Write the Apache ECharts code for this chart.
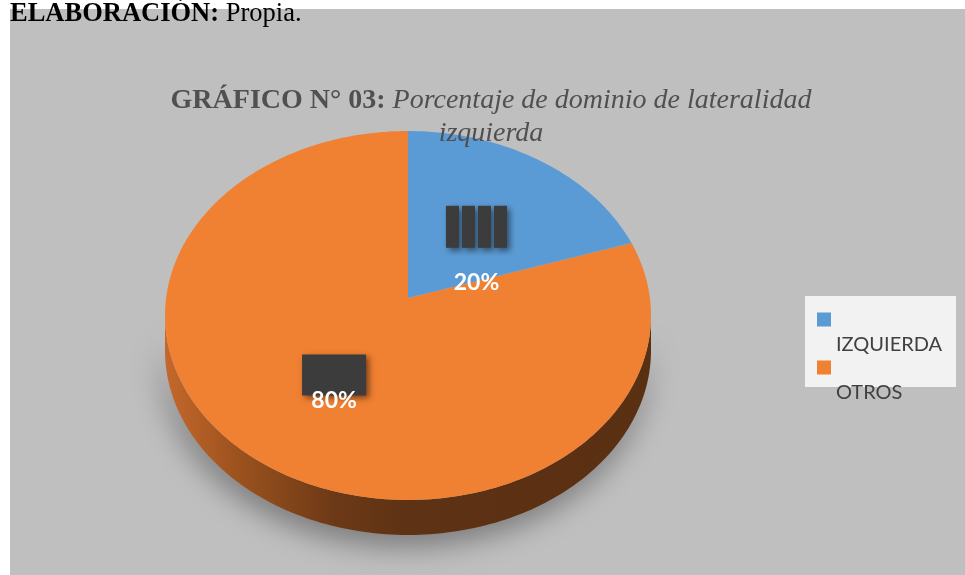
<!DOCTYPE html>
<html><head><meta charset="utf-8">
<script src="https://cdn.jsdelivr.net/npm/echarts@6/dist/echarts.min.js"></script>
<style>html,body{margin:0;padding:0;background:#fff}#c{width:965px;height:575px}</style>
</head><body><div id="c"></div>
<script>
// ---- data ----
const categories = ['IZQUIERDA', 'OTROS'];
const values = [20, 80];
const colors = ['#5b9bd5', '#f08032'];
const total = values.reduce((a, b) => a + b, 0);
const percentLabels = values.map(v => Math.round(v / total * 100) + '%');

// ---- styling (perspective ellipse, label decoration) ----
const geo = { rx: 241.9, ry: 182.8, k: 0.095, depth: 35 };
const labelBoxCounts = [4, 1];
const labelBoxWidths = [13, 64];
const labelBoxHeights = [42, 41];
const labelTextDy = [56, 26];

const sideGradient = new echarts.graphic.LinearGradient(0, 0, 1, 0, [
  { offset: 0, color: '#c4682c' },
  { offset: 0.15, color: '#9c521e' },
  { offset: 0.35, color: '#6c3916' },
  { offset: 0.5, color: '#5e3214' },
  { offset: 1, color: '#5a3012' }
]);

function makeRender(i) {
  return function (params, api) {
    let start = 0;
    for (let j = 0; j < i; j++) start += values[j];
    const end = start + api.value(0);
    const c = api.coord([0, start]);
    const e = api.coord([1, start]);
    const R = Math.hypot(e[0] - c[0], e[1] - c[1]);
    function pt(a, f) {
      const p = api.coord([1, a]);
      const u = (p[0] - c[0]) / R * f, v = (p[1] - c[1]) / R * f;
      const d = 1 - geo.k * v;
      return [c[0] + geo.rx * u / d, c[1] + geo.ry * v / d];
    }
    const steps = Math.max(8, Math.ceil((end - start) * 3));
    const top = [[c[0], c[1]]];
    const sideTop = [];
    for (let s = 0; s <= steps; s++) {
      const a = start + (end - start) * s / steps;
      const p = api.coord([1, a]);
      const v = (p[1] - c[1]) / R;
      const q = pt(a, 1);
      top.push(q);
      if (v >= geo.k) sideTop.push(q);
    }
    const children = [];
    if (sideTop.length > 1) {
      const pts = sideTop.concat(sideTop.slice().reverse().map(p => [p[0], p[1] + geo.depth]));
      children.push({
        type: 'polygon', shape: { points: pts },
        style: { fill: sideGradient, shadowBlur: 30, shadowColor: 'rgba(0,0,0,0.4)', shadowOffsetY: 10, shadowOffsetX: -3 }
      });
    }
    children.push({ type: 'polygon', shape: { points: top }, style: { fill: api.visual('color') } });
    // label: placeholder glyph boxes + percentage
    const anc = pt((start + end) / 2, 0.5);
    const nb = labelBoxCounts[i], bw = labelBoxWidths[i], bh = labelBoxHeights[i], gap = 3;
    const tw = nb * bw + (nb - 1) * gap;
    for (let b = 0; b < nb; b++) {
      children.push({
        type: 'rect',
        shape: { x: anc[0] - tw / 2 + b * (bw + gap), y: anc[1] - bh / 2, width: bw, height: bh },
        style: { fill: '#3c3c3c', shadowBlur: 6, shadowColor: 'rgba(0,0,0,0.5)', shadowOffsetX: 3, shadowOffsetY: 3 }
      });
    }
    children.push({
      type: 'text', x: anc[0], y: anc[1] + labelTextDy[i],
      style: { text: percentLabels[i], fill: '#ffffff', font: 'bold 23px Lato', align: 'center', verticalAlign: 'middle' }
    });
    return { type: 'group', children };
  };
}

const chart = echarts.init(document.getElementById('c'), null, { renderer: 'canvas' });
chart.setOption({
  backgroundColor: '#ffffff',
  animation: false,
  title: [
    {
      text: '{b|ELABORACIÓN:} {r|Propia.}', left: 10, top: 0, padding: 0,
      textStyle: {
        fontFamily: 'Liberation Serif', fontWeight: 'normal', fontSize: 26.5, lineHeight: 28, color: '#000',
        rich: {
          b: { fontFamily: 'Liberation Serif', fontWeight: 'bold', fontSize: 26.5, lineHeight: 28, color: '#000' },
          r: { fontFamily: 'Liberation Serif', fontWeight: 'normal', fontSize: 26.5, lineHeight: 28, color: '#000' }
        }
      }
    },
    {
      text: '{b|GRÁFICO N° 03:} {i|Porcentaje de dominio de lateralidad}\n{i|izquierda}',
      left: 491, top: 84, padding: 0, textAlign: 'center',
      textStyle: {
        fontFamily: 'Liberation Serif', fontWeight: 'normal', fontSize: 28, lineHeight: 33, color: '#505050',
        rich: {
          b: { fontFamily: 'Liberation Serif', fontWeight: 'bold', fontSize: 28, lineHeight: 33, color: '#505050' },
          i: { fontFamily: 'Liberation Serif', fontWeight: 'normal', fontStyle: 'italic', fontSize: 28, lineHeight: 33, color: '#505050' }
        }
      }
    }
  ],
  graphic: [
    { type: 'rect', z: 0, silent: true, shape: { x: 10, y: 9, width: 955, height: 566 }, style: { fill: '#bfbfbf' } },
    { type: 'rect', z: 1, silent: true, shape: { x: 805, y: 296, width: 151, height: 91 }, style: { fill: '#f2f2f2' } }
  ],
  legend: {
    orient: 'vertical', left: 817, top: 284, padding: 0,
    itemWidth: 14, itemHeight: 14, itemGap: -23, icon: 'rect',
    data: categories,
    selectedMode: false,
    formatter: '{t|{name}}',
    textStyle: {
      fontFamily: 'Lato', fontSize: 20, color: '#404040',
      rich: { t: { fontFamily: 'Lato', fontSize: 20, color: '#404040', lineHeight: 24, padding: [51, 0, 0, 0] } }
    }
  },
  polar: { center: [408, 298], radius: 100 },
  angleAxis: { type: 'value', min: 0, max: total, startAngle: 90, clockwise: true, show: false },
  radiusAxis: { type: 'value', min: 0, max: 1, show: false },
  series: categories.map((name, i) => ({
    type: 'custom', name, coordinateSystem: 'polar', silent: true,
    data: [values[i]], itemStyle: { color: colors[i] },
    renderItem: makeRender(i), z: i === 0 ? 3 : 2
  }))
});
</script>
</body></html>
